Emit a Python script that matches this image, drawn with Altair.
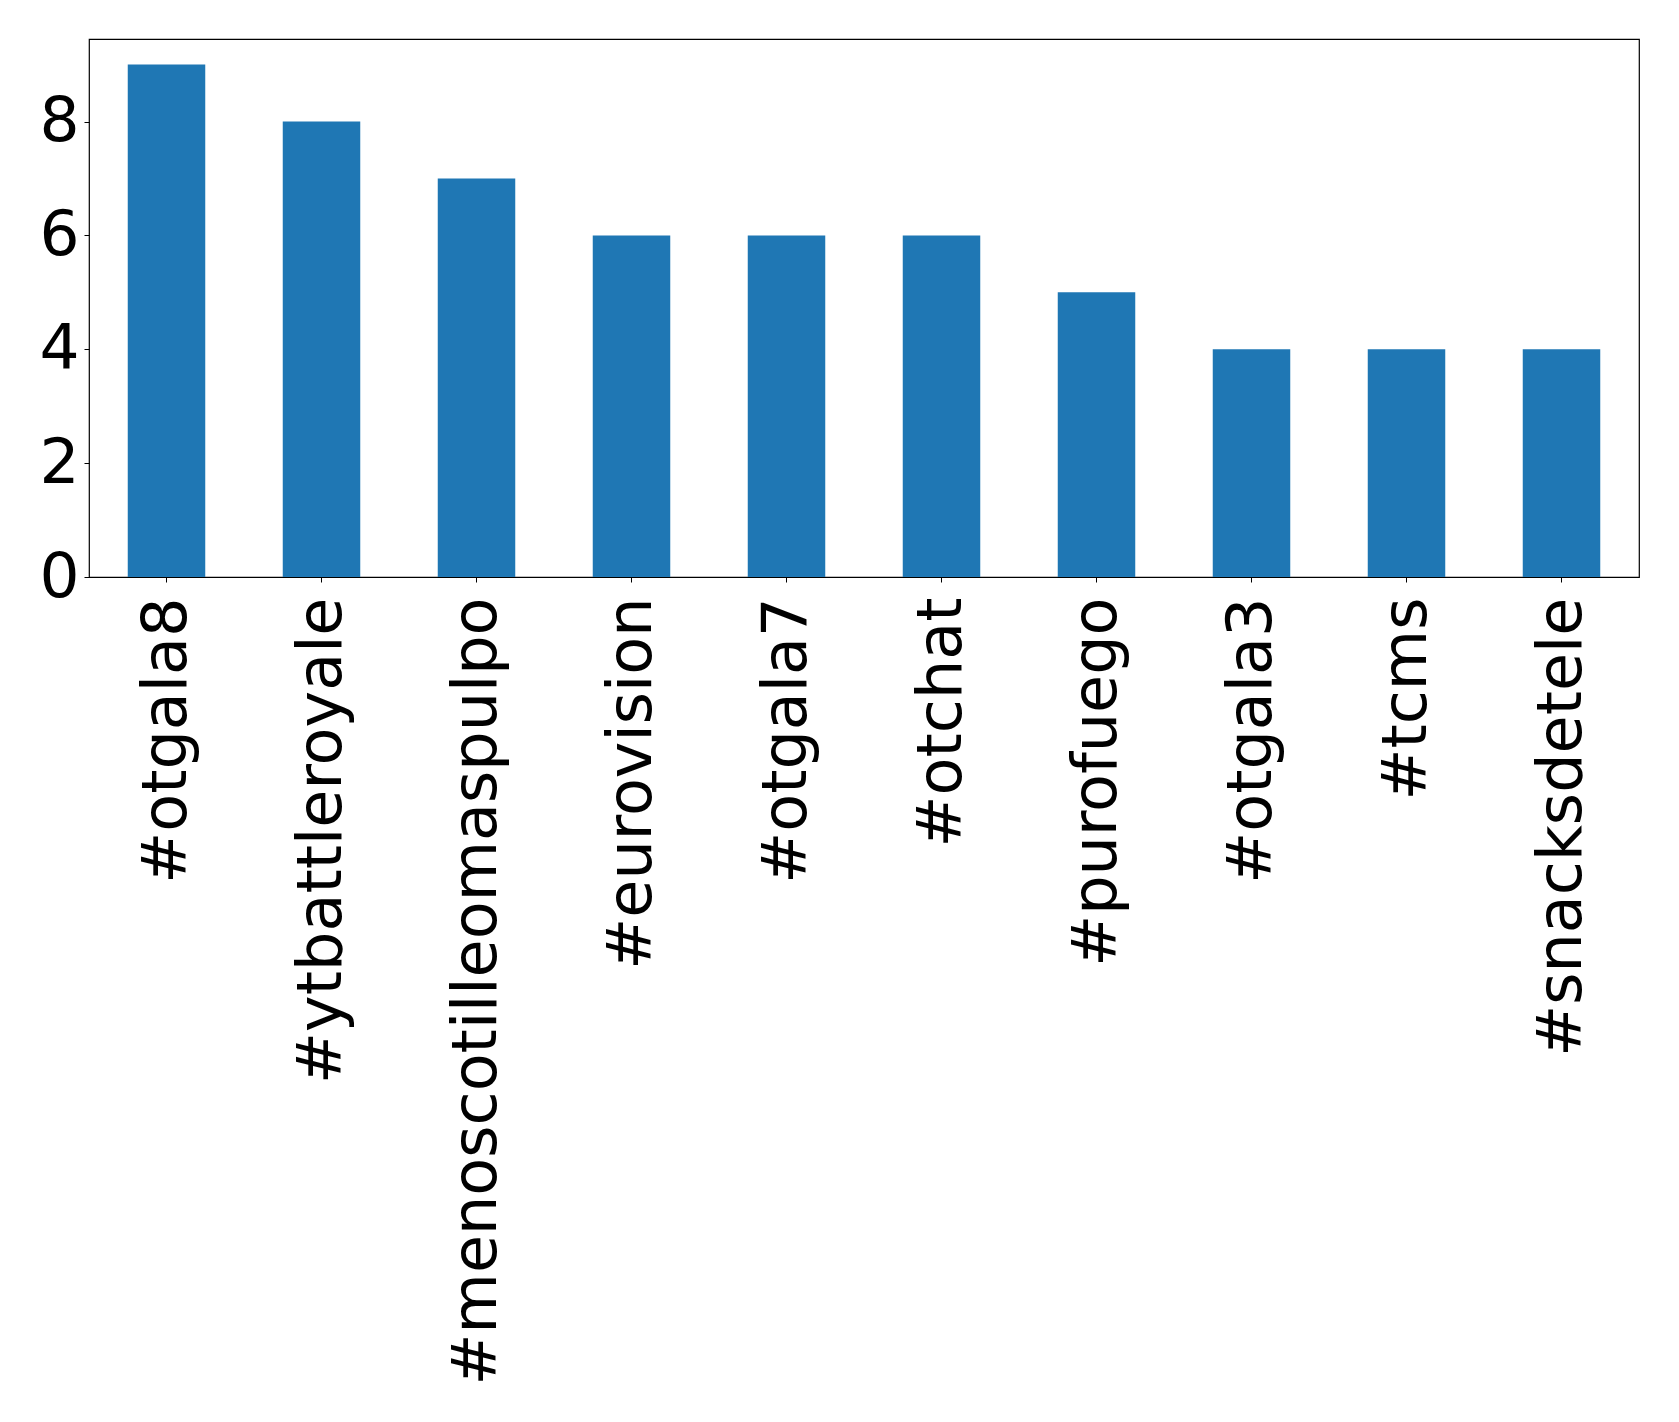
import altair as alt
import pandas as pd

tags = ["#otgala8", "#ytbattleroyale", "#menoscotilleomaspulpo", "#eurovision",
        "#otgala7", "#otchat", "#purofuego", "#otgala3", "#tcms", "#snacksdetele"]
counts = [9, 8, 7, 6, 6, 6, 5, 4, 4, 4]
y_ticks = [0, 2, 4, 6, 8]

df = pd.DataFrame({"tag": tags, "count": counts})

chart = alt.Chart(df).mark_bar(color="#1f77b4").encode(
    x=alt.X("tag:N", sort=tags, title=None,
            scale=alt.Scale(paddingInner=0.5, paddingOuter=0.25),
            axis=alt.Axis(labelAngle=270, labelFontSize=62, labelFont="DejaVu Sans",
                          labelColor="black", tickColor="black", tickSize=5,
                          labelPadding=15, domain=False, grid=False, labelLimit=1000)),
    y=alt.Y("count:Q", title=None,
            scale=alt.Scale(domain=[0, 9.45], nice=False, zero=True),
            axis=alt.Axis(values=y_ticks, labelFontSize=63, labelFont="DejaVu Sans",
                          labelColor="black", tickColor="black", tickSize=5,
                          labelPadding=5, domain=False, grid=False)),
).properties(
    width=1550, height=538,
    autosize="none",
    padding={"left": 81, "top": 31, "right": 30, "bottom": 830},
).configure_view(
    stroke="black", strokeWidth=1.2
)

chart.save("out.html", embed_options={"renderer": "svg", "actions": False})
